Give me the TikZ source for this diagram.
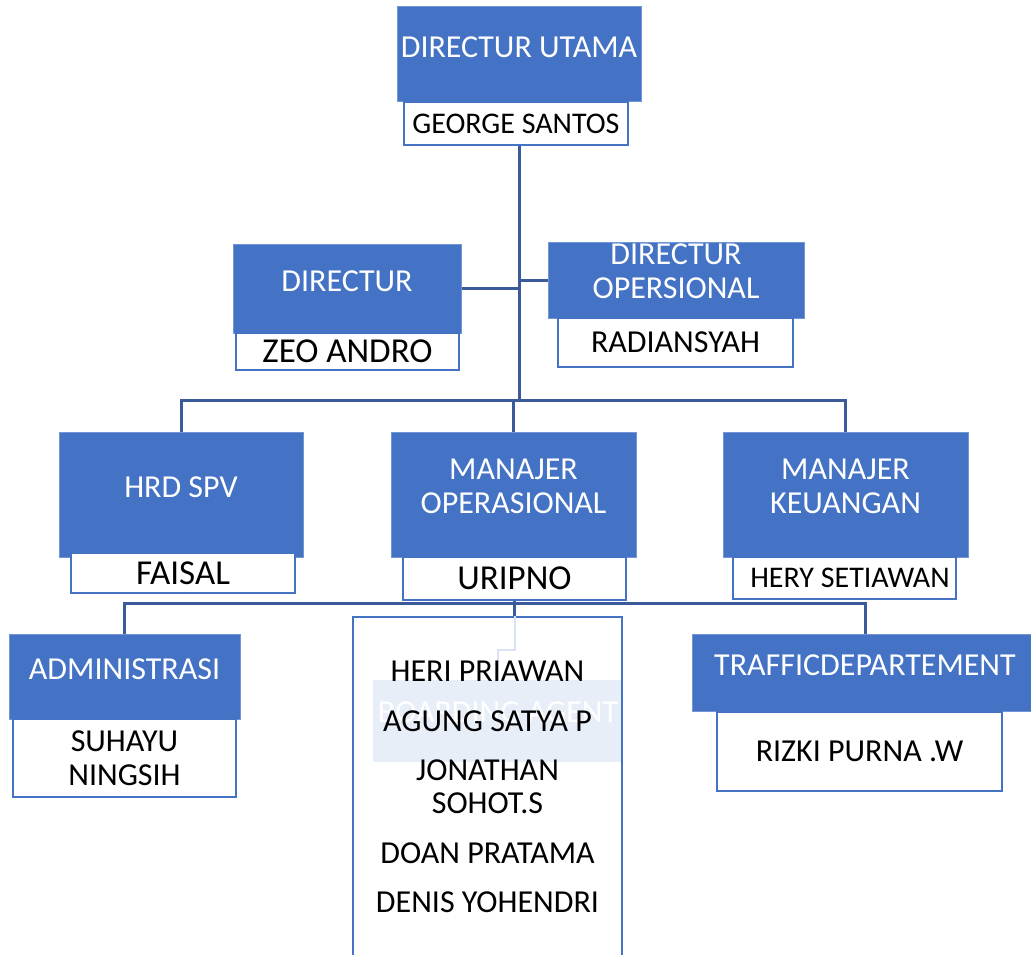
\documentclass[tikz,border=0pt]{standalone}
\usepackage{fontspec}
\setmainfont{Carlito}

\definecolor{roleblue}{HTML}{4472C4}
\definecolor{wireblue}{HTML}{3A5A99}
\definecolor{paleline}{HTML}{DAE3F3}

\tikzset{
  role/.style={fill=roleblue, draw=roleblue!75!white, line width=1pt, text=white,
    align=center, inner sep=0pt, text depth=15pt, font=\fontsize{32}{34}\selectfont},
  person/.style={fill=white, draw=roleblue, line width=2.5pt, align=center,
    inner sep=0pt, font=\fontsize{32}{34}\selectfont},
  name small/.style={font=\fontsize{30}{34}\selectfont},
  name big/.style={font=\fontsize{35}{38}\selectfont},
  wire/.style={draw=wireblue, line width=3pt},
}

\begin{document}
\begin{tikzpicture}[x=1pt, y=-1pt]

\clip (0,0) rectangle (1031,955);

\coordinate (bus1) at (0,400);
\coordinate (bus2) at (0,603);
\coordinate (bend) at (498,650);

\node [role, minimum width=244pt, minimum height=95pt] (utama) at (519,54.5) {DIRECTUR UTAMA};
\node [person, name small, minimum width=224pt, minimum height=43pt] (utama-name) at (516,123.5) {GEORGE SANTOS};

\node [role, minimum width=228pt, minimum height=89pt] (dir) at (347,288.5) {DIRECTUR};
\node [person, name big, minimum width=223pt, minimum height=37pt] (dir-name) at (347.5,351.5) {ZEO ANDRO};

\node [role, text depth=17pt, minimum width=256pt, minimum height=76pt] (dirops) at (676,280) {DIRECTUR\\OPERSIONAL};
\node [person, minimum width=235pt, minimum height=49pt] (dirops-name) at (675.5,342.5) {RADIANSYAH};

\node [role, minimum width=244pt, minimum height=125pt] (hrd) at (181,494.5) {HRD SPV};
\node [person, name big, minimum width=224pt, minimum height=40pt] (hrd-name) at (183,573) {FAISAL};

\node [role, text depth=17pt, minimum width=245pt, minimum height=125pt] (opr) at (513.5,494.5) {MANAJER\\OPERASIONAL};
\node [person, name big, minimum width=223pt, minimum height=43pt] (opr-name) at (514.5,578.5) {URIPNO};

\node [role, text depth=17pt, minimum width=245pt, minimum height=125pt] (keu) at (845.5,494.5) {MANAJER\\KEUANGAN};
\node [person, name small, minimum width=223pt, minimum height=42pt] (keu-name) at (844.5,578) {\hspace*{11pt}HERY SETIAWAN};

\node [role, minimum width=231pt, minimum height=85pt] (adm) at (124.5,676.5) {ADMINISTRASI};
\node [person, minimum width=223pt, minimum height=78pt] (adm-name) at (124.5,758) {SUHAYU\\NINGSIH};

\node [role, minimum width=346pt, minimum height=77pt] (traf) at (865,672.5) {TRAFFICDEPARTEMENT};
\node [person, minimum width=285pt, minimum height=79pt] (traf-name) at (859.5,751.5) {RIZKI PURNA .W};

\node [fill=roleblue, fill opacity=0.12, text opacity=1, text=white, inner sep=0pt, text depth=18pt,
  minimum width=250pt, minimum height=82pt, font=\fontsize{32}{34}\selectfont] (board) at (498,721) {BOARDING AGENT};
\node [person, fill=none, minimum width=269pt, minimum height=348pt] (staff) at (487.5,791) {};

\draw [paleline, line width=2pt] (opr-name.south) |- (bend) -- (bend |- board.north);

\foreach \n/\y [count=\i] in {HERI PRIAWAN/671, AGUNG SATYA P/721, {JONATHAN\\SOHOT.S}/786.5, DOAN PRATAMA/853, DENIS YOHENDRI/902}
  \node [align=center, inner sep=0pt, font=\fontsize{32}{33}\selectfont] (staff-\i) at (487.5,\y) {\n};

\draw [wire] (utama.south |- utama-name.south) -- (utama.south |- bus1);
\draw [wire] (dir.east) -- (dir.east -| utama.south);
\draw [wire] (dirops.west) -- (dirops.west -| utama.south);

\draw [wire] (hrd.north) |- (keu.north |- bus1) -- (keu.north);
\draw [wire] (opr.north) -- (opr.north |- bus1);

\draw [wire] (adm.north) |- (traf.north |- bus2) -- (traf.north);
\draw [wire] (opr-name.south) -- (opr-name.south |- staff.north);

\end{tikzpicture}
\end{document}
